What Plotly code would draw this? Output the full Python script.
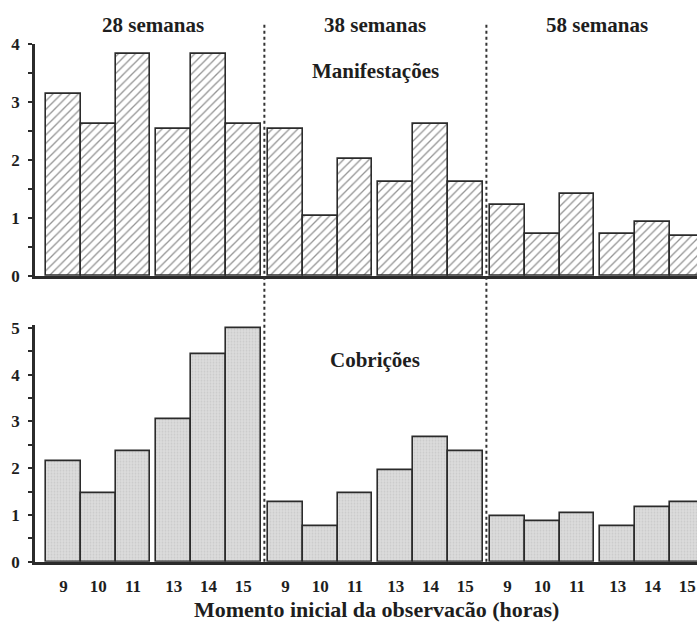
import plotly.graph_objects as go

# ---- data ----
hours = ["9", "10", "11", "13", "14", "15"]
groups = ["28 semanas", "38 semanas", "58 semanas"]
manifestacoes = [
    [3.13, 2.62, 3.82, 2.53, 3.82, 2.62],
    [2.53, 1.03, 2.02, 1.62, 2.62, 1.62],
    [1.22, 0.72, 1.41, 0.72, 0.92, 0.69],
]
cobricoes = [
    [2.16, 1.46, 2.36, 3.06, 4.45, 5.0],
    [1.27, 0.76, 1.46, 1.97, 2.66, 2.37],
    [0.97, 0.86, 1.05, 0.76, 1.16, 1.27],
]

# ---- layout helpers (positions on a numeric axis) ----
W, H = 697, 628
GROUP_STEP = 6.38
INNER_GAP = 0.17


def pos(g, i):
    return g * GROUP_STEP + i + (INNER_GAP if int(hours[i]) >= 13 else 0)


xs, top_vals, bot_vals, ticktext = [], [], [], []
for g in range(len(groups)):
    for i in range(len(hours)):
        xs.append(pos(g, i))
        top_vals.append(manifestacoes[g][i])
        bot_vals.append(cobricoes[g][i])
        ticktext.append(hours[i])

FONT = "Liberation Serif"
dark = "#2b2b2b"
txt = "#1e1e1e"

fig = go.Figure()
fig.add_trace(go.Bar(
    x=xs, y=top_vals, width=1.0, xaxis="x", yaxis="y",
    marker=dict(color="white", line=dict(color=dark, width=1.6),
                pattern=dict(shape="/", fgcolor="#2a2a2a", bgcolor="white",
                             size=6, solidity=0.22)),
    showlegend=False, hoverinfo="x+y",
))
fig.add_trace(go.Bar(
    x=xs, y=bot_vals, width=1.0, xaxis="x2", yaxis="y2",
    marker=dict(color="#d6d6d6", line=dict(color=dark, width=1.6),
                pattern=dict(shape=".", fgcolor="#b8b8b8", bgcolor="#dcdcdc",
                             size=3, solidity=0.3)),
    showlegend=False, hoverinfo="x+y",
))

x_left_px, unit_px, first_edge_px = 35, 34.8, 46
x0 = -0.5 - (first_edge_px - x_left_px) / unit_px
x1 = -0.5 + (W - first_edge_px) / unit_px
xdom = [x_left_px / W, 1.0]

top_dom = [1 - 275 / H, 1 - 36 / H]
bot_dom = [1 - 570 / H, 1 - 326 / H]

axis_common = dict(range=[x0, x1], domain=xdom, showgrid=False, zeroline=False,
                   showline=True, linecolor=dark, linewidth=2.5)
yfont = dict(family=FONT, size=17, color=txt, weight="bold")

yax_common = dict(showgrid=False, zeroline=False, showline=True, linecolor=dark,
                  linewidth=2.5, dtick=1, ticks="outside", ticklen=4, tickcolor=dark,
                  tickwidth=1.5, ticklabelstandoff=5,
                  minor=dict(dtick=0.5, ticks="outside", ticklen=4, tickcolor=dark),
                  tickfont=yfont)

fig.update_layout(
    width=W, height=H, margin=dict(l=0, r=0, t=0, b=0),
    paper_bgcolor="white", plot_bgcolor="white",
    bargap=0, barmode="overlay",
    xaxis=dict(**axis_common, anchor="y", showticklabels=False, ticks=""),
    xaxis2=dict(**axis_common, anchor="y2", tickmode="array", tickvals=xs,
                ticktext=ticktext, ticks="", ticklabelstandoff=7,
                tickfont=dict(family=FONT, size=17, color=txt, weight="bold")),
    yaxis=dict(**yax_common, domain=top_dom, range=[0, 4], anchor="x"),
    yaxis2=dict(**yax_common, domain=bot_dom, range=[0, 5.06], anchor="x2"),
)

# dotted dividers between groups
for g in range(1, len(groups)):
    xd = (pos(g - 1, len(hours) - 1) + 0.5 + pos(g, 0) - 0.5) / 2
    fig.add_shape(type="line", xref="x", yref="paper", x0=xd, x1=xd,
                  y0=1 - 570 / H, y1=1 - 15 / H,
                  line=dict(color="#333333", width=2, dash="dot"))

# group titles
for g, name in enumerate(groups):
    xc = (pos(g, 0) + pos(g, len(hours) - 1)) / 2
    fig.add_annotation(x=xc, xref="x", y=1 - 16 / H, yref="paper", yanchor="middle",
                       text=f"<b>{name}</b>", showarrow=False,
                       font=dict(family=FONT, size=21, color=txt))

mid = (pos(1, 0) + pos(1, len(hours) - 1)) / 2
fig.add_annotation(x=mid, xref="x", y=1 - 64 / H, yref="paper", yanchor="middle",
                   text="<b>Manifestações</b>", showarrow=False,
                   font=dict(family=FONT, size=21, color=txt))
fig.add_annotation(x=mid, xref="x", y=1 - 362 / H, yref="paper", yanchor="middle",
                   text="<b>Cobrições</b>", showarrow=False,
                   font=dict(family=FONT, size=21, color=txt))
fig.add_annotation(x=376 / W, xref="paper", y=1 - 619 / H, yref="paper", yanchor="middle",
                   text="<b>Momento inicial da observacão (horas)</b>",
                   showarrow=False, font=dict(family=FONT, size=22, color=txt))

fig.write_html("out.html")
